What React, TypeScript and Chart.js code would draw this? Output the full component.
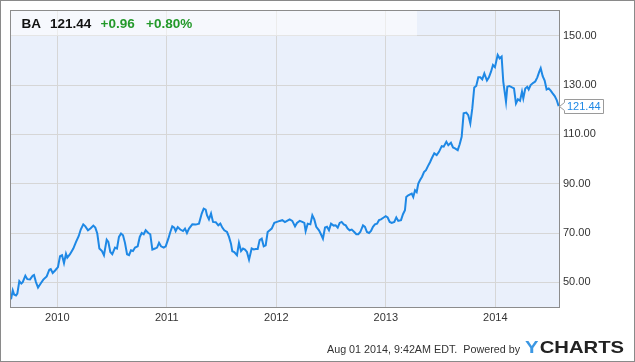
import React, { useEffect, useRef } from "react";
import { Chart, registerables } from "chart.js";

Chart.register(...registerables);

// ---- data ----
const ticker = "BA";
const lastPriceText = "121.44";
const changeText = "+0.96";
const changePctText = "+0.80%";
const footerText = "Aug 01 2014, 9:42AM EDT.  Powered by";
const brandY = "Y";
const brandRest = "CHARTS";

const xMin = 2009.577;
const xMax = 2014.582;
const yMin = 40;
const yMax = 160;
const yearTicks = [2010, 2011, 2012, 2013, 2014];
const priceTicks = [50, 70, 90, 110, 130, 150];

const dates = [
  2009.577, 2009.593, 2009.605, 2009.623, 2009.635, 2009.653, 2009.671, 2009.684, 2009.708, 2009.726,
  2009.751, 2009.775, 2009.787, 2009.805, 2009.824, 2009.848, 2009.872, 2009.903, 2009.927, 2009.94,
  2009.958, 2009.982, 2010.006, 2010.025, 2010.043, 2010.061, 2010.079, 2010.091, 2010.116, 2010.146,
  2010.171, 2010.195, 2010.214, 2010.237, 2010.256, 2010.28, 2010.305, 2010.329, 2010.347, 2010.365,
  2010.384, 2010.408, 2010.426, 2010.451, 2010.466, 2010.484, 2010.502, 2010.527, 2010.545, 2010.563,
  2010.582, 2010.6, 2010.618, 2010.637, 2010.655, 2010.673, 2010.691, 2010.71, 2010.734, 2010.753,
  2010.771, 2010.789, 2010.807, 2010.831, 2010.849, 2010.868, 2010.892, 2010.911, 2010.929, 2010.947,
  2010.972, 2010.99, 2011.014, 2011.032, 2011.05, 2011.068, 2011.081, 2011.1, 2011.123, 2011.148,
  2011.166, 2011.184, 2011.203, 2011.233, 2011.264, 2011.294, 2011.319, 2011.337, 2011.355, 2011.367,
  2011.385, 2011.404, 2011.422, 2011.447, 2011.47, 2011.489, 2011.507, 2011.525, 2011.55, 2011.568,
  2011.586, 2011.598, 2011.616, 2011.641, 2011.659, 2011.678, 2011.696, 2011.714, 2011.732, 2011.751,
  2011.775, 2011.794, 2011.812, 2011.83, 2011.848, 2011.867, 2011.885, 2011.903, 2011.921, 2011.94,
  2011.958, 2011.982, 2012.006, 2012.031, 2012.055, 2012.079, 2012.098, 2012.122, 2012.146, 2012.171,
  2012.189, 2012.214, 2012.237, 2012.256, 2012.268, 2012.287, 2012.311, 2012.329, 2012.347, 2012.365,
  2012.39, 2012.408, 2012.426, 2012.445, 2012.463, 2012.481, 2012.5, 2012.524, 2012.542, 2012.561,
  2012.579, 2012.597, 2012.616, 2012.634, 2012.652, 2012.67, 2012.689, 2012.712, 2012.731, 2012.749,
  2012.767, 2012.792, 2012.81, 2012.828, 2012.847, 2012.865, 2012.883, 2012.901, 2012.92, 2012.938,
  2012.956, 2012.981, 2012.999, 2013.017, 2013.036, 2013.054, 2013.078, 2013.096, 2013.114, 2013.139,
  2013.157, 2013.175, 2013.187, 2013.205, 2013.237, 2013.251, 2013.267, 2013.282, 2013.297, 2013.312,
  2013.331, 2013.349, 2013.367, 2013.385, 2013.404, 2013.419, 2013.443, 2013.465, 2013.486, 2013.511,
  2013.529, 2013.553, 2013.571, 2013.595, 2013.614, 2013.632, 2013.657, 2013.675, 2013.693, 2013.711,
  2013.735, 2013.753, 2013.772, 2013.79, 2013.808, 2013.826, 2013.845, 2013.863, 2013.881, 2013.9,
  2013.924, 2013.942, 2013.961, 2013.979, 2013.997, 2014.022, 2014.04, 2014.058, 2014.073, 2014.098,
  2014.11, 2014.128, 2014.153, 2014.171, 2014.189, 2014.207, 2014.226, 2014.244, 2014.256, 2014.274,
  2014.292, 2014.305, 2014.323, 2014.347, 2014.365, 2014.384, 2014.402, 2014.415, 2014.433, 2014.451,
  2014.469, 2014.488, 2014.506, 2014.524, 2014.543, 2014.561, 2014.579,
];

const prices = [
  43.1, 46.7, 45.1, 44.7, 45.4, 50.5, 49.5, 50.1, 52.7, 51.3,
  51.2, 52.7, 53.0, 50.1, 47.9, 49.5, 51.1, 52.4, 55.1, 55.4,
  53.8, 54.9, 56.2, 60.6, 61.0, 57.8, 61.6, 60.0, 61.4, 63.7,
  66.4, 68.7, 71.4, 73.5, 72.7, 71.1, 71.9, 73.0, 72.2, 69.8,
  63.7, 62.7, 61.0, 67.3, 66.4, 62.3, 61.4, 64.1, 63.7, 68.4,
  69.8, 69.1, 66.0, 61.4, 61.0, 63.0, 62.7, 64.1, 64.6, 68.4,
  70.0, 69.5, 71.1, 70.0, 69.5, 63.3, 63.7, 64.1, 66.0, 64.6,
  64.1, 64.6, 67.7, 70.4, 72.7, 72.2, 70.8, 72.4, 71.4, 70.8,
  71.8, 70.0, 71.8, 73.5, 73.4, 73.8, 77.9, 79.9, 79.5, 77.2,
  75.5, 77.9, 74.5, 74.4, 73.1, 73.8, 72.2, 71.1, 70.4, 68.4,
  65.7, 62.6, 62.3, 61.0, 66.0, 62.7, 63.7, 63.3, 62.3, 59.2,
  63.7, 63.3, 63.5, 63.5, 67.1, 67.7, 64.6, 65.0, 70.4, 71.1,
  71.8, 74.1, 74.5, 74.9, 75.2, 74.4, 74.9, 75.5, 74.9, 72.7,
  74.1, 74.9, 74.5, 74.1, 70.8, 73.8, 73.5, 77.2, 75.5, 72.5,
  71.1, 69.5, 67.7, 72.2, 72.5, 71.1, 73.8, 73.0, 73.1, 72.2,
  74.1, 74.5, 73.5, 73.1, 71.8, 71.1, 71.4, 70.4, 69.5, 69.5,
  70.4, 73.1, 72.5, 70.4, 70.0, 70.8, 72.5, 73.5, 73.8, 75.2,
  75.5, 76.3, 76.8, 76.3, 74.5, 74.1, 74.5, 76.3, 74.9, 75.2,
  77.6, 79.2, 84.6, 85.3, 86.0, 84.6, 87.3, 86.6, 90.0, 91.4,
  92.8, 94.7, 95.5, 97.1, 98.7, 100.2, 102.3, 101.6, 102.9, 105.2,
  105.0, 107.0, 105.6, 106.6, 104.7, 104.3, 103.6, 106.0, 109.0, 118.5,
  118.8, 117.8, 114.4, 120.5, 129.0, 129.6, 133.1, 133.1, 132.3, 134.7,
  131.8, 133.1, 135.4, 138.1, 137.2, 142.2, 140.8, 141.5, 131.4, 123.2,
  129.3, 129.6, 129.0, 128.6, 122.5, 124.2, 123.6, 127.3, 124.6, 128.6,
  129.3, 128.2, 130.0, 130.9, 131.4, 133.1, 135.4, 136.8, 133.6, 131.8,
  128.2, 128.6, 127.7, 126.6, 125.5, 123.9, 121.44,
];

// ---- styles ----
const FONT = '"Liberation Sans", Arial, Helvetica, sans-serif';
const LINE_COLOR = "#1E88E5";
const PLOT_BG = "#EAF0FB";
const GRID = "#d6d6d6";
const TEXT = "#333333";
const GREEN = "#23992a";

const ychartsPlugin = {
  id: "ychartsDecor",
  beforeDraw(chart: any) {
    const { ctx, chartArea: a, width, height } = chart;
    ctx.save();
    ctx.fillStyle = "#ffffff";
    ctx.fillRect(0, 0, width, height);
    ctx.fillStyle = PLOT_BG;
    ctx.fillRect(a.left, a.top, a.right - a.left, a.bottom - a.top);
    ctx.restore();
  },
  beforeDatasetsDraw(chart: any) {
    const { ctx, chartArea: a } = chart;
    const hb = chart.scales.y.getPixelForValue(priceTicks[priceTicks.length - 1]);
    ctx.save();
    ctx.fillStyle = "rgba(255,255,255,0.55)";
    ctx.fillRect(a.left, a.top, 406, hb - a.top);
    ctx.textBaseline = "middle";
    ctx.textAlign = "left";
    ctx.font = `bold 13.5px ${FONT}`;
    const ty = 24.5;
    ctx.fillStyle = "#111111";
    ctx.fillText(ticker, 21.5, ty);
    ctx.fillText(lastPriceText, 50, ty);
    ctx.fillStyle = GREEN;
    ctx.fillText(changeText, 100.5, ty);
    ctx.fillText(changePctText, 146, ty);
    ctx.restore();
  },
  afterDraw(chart: any) {
    const { ctx, chartArea: a, width, height } = chart;
    ctx.save();
    // plot border
    ctx.strokeStyle = "#8c8c8c";
    ctx.lineWidth = 1;
    ctx.strokeRect(a.left - 0.5, a.top - 0.5, a.right - a.left + 1, a.bottom - a.top + 1);

    // last value label
    const last = prices[prices.length - 1];
    const yp = Math.round(chart.scales.y.getPixelForValue(last)) + 0.5;
    const bx = a.right + 5.5;
    const bw = 39;
    ctx.beginPath();
    ctx.moveTo(a.right + 0.5, yp);
    ctx.lineTo(bx, yp - 4);
    ctx.lineTo(bx, yp - 7);
    ctx.lineTo(bx + bw, yp - 7);
    ctx.lineTo(bx + bw, yp + 7);
    ctx.lineTo(bx, yp + 7);
    ctx.lineTo(bx, yp + 4);
    ctx.closePath();
    ctx.fillStyle = "#ffffff";
    ctx.fill();
    ctx.strokeStyle = "#9a9a9a";
    ctx.stroke();
    ctx.fillStyle = LINE_COLOR;
    ctx.font = `11px ${FONT}`;
    ctx.textBaseline = "middle";
    ctx.textAlign = "left";
    ctx.fillText(last.toFixed(2), bx + 2.5, yp);

    // footer
    ctx.fillStyle = TEXT;
    ctx.font = `11px ${FONT}`;
    ctx.textAlign = "left";
    ctx.fillText(footerText, 327, 349.5, 193);

    // logo
    ctx.font = `bold 17px ${FONT}`;
    ctx.textAlign = "left";
    const wY = ctx.measureText(brandY).width;
    const wR = ctx.measureText(brandRest).width;
    const gap = 1;
    const total = wY + gap + wR;
    const target = 99;
    ctx.translate(525, 348.5);
    ctx.scale(target / total, 1);
    ctx.fillStyle = "#3b97e3";
    ctx.fillText(brandY, 0, 0);
    ctx.fillStyle = "#222222";
    ctx.fillText(brandRest, wY + gap, 0);
    ctx.setTransform(1, 0, 0, 1, 0, 0);

    // outer frame
    ctx.strokeStyle = "#8a8a8a";
    ctx.lineWidth = 1;
    ctx.strokeRect(0.5, 0.5, width - 1, height - 1);
    ctx.restore();
  },
};

export default function App() {
  const ref = useRef<HTMLCanvasElement>(null);
  useEffect(() => {
    const canvas = ref.current;
    if (!canvas) return;
    const points = dates.map((d, i) => ({ x: d, y: prices[i] }));
    const chart = new Chart(canvas, {
      type: "line",
      data: {
        datasets: [
          {
            data: points,
            borderColor: LINE_COLOR,
            borderWidth: 2,
            pointRadius: 0,
            tension: 0,
            fill: false,
          },
        ],
      },
      options: {
        responsive: false,
        animation: false,
        devicePixelRatio: 1,
        layout: { padding: { left: 11, top: 11, right: 0, bottom: 0 } },
        plugins: { legend: { display: false }, tooltip: { enabled: false } },
        scales: {
          x: {
            type: "linear",
            min: xMin,
            max: xMax,
            afterBuildTicks: (s: any) => {
              s.ticks = yearTicks.map((v) => ({ value: v }));
            },
            afterFit: (s: any) => {
              s.height = 55;
            },
            grid: { color: GRID, lineWidth: 1, drawTicks: false },
            border: { display: false },
            ticks: {
              padding: 4,
              color: TEXT,
              font: { family: FONT, size: 11 },
              maxRotation: 0,
              autoSkip: false,
              callback: (v: any) => String(v),
            },
          },
          y: {
            type: "linear",
            position: "right",
            min: yMin,
            max: yMax,
            afterBuildTicks: (s: any) => {
              s.ticks = priceTicks.map((v) => ({ value: v }));
            },
            afterFit: (s: any) => {
              s.width = 76;
            },
            grid: { color: GRID, lineWidth: 1, drawTicks: false },
            border: { display: false },
            ticks: {
              padding: 4,
              color: TEXT,
              font: { family: FONT, size: 11 },
              autoSkip: false,
              callback: (v: any) => Number(v).toFixed(2),
            },
          },
        },
      },
      plugins: [ychartsPlugin],
    } as any);
    return () => chart.destroy();
  }, []);
  return (
    <div style={{ position: "fixed", left: 0, top: 0, width: 635, height: 362 }}>
      <canvas ref={ref} width={635} height={362} style={{ display: "block", width: 635, height: 362 }} />
    </div>
  );
}
